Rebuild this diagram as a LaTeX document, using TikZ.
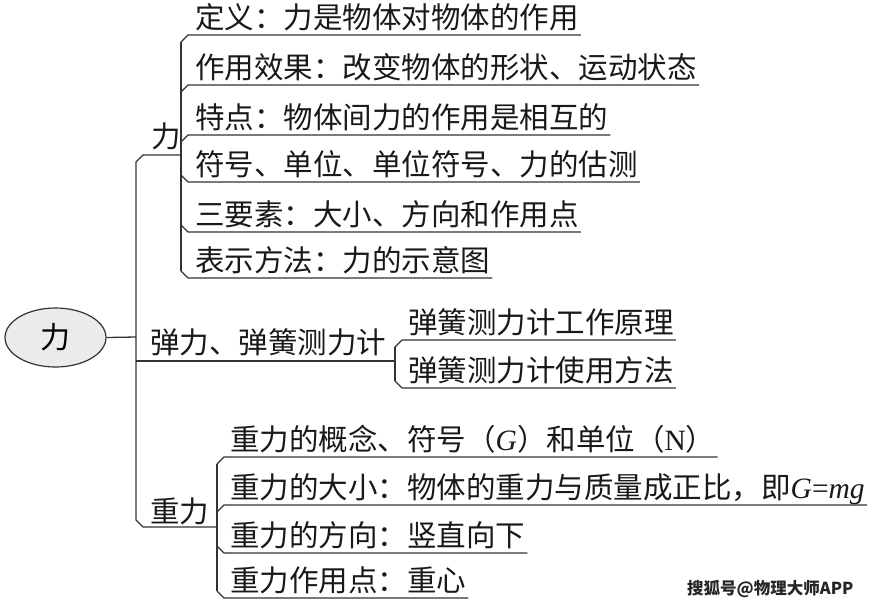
\documentclass[tikz,border=0pt]{standalone}
\usepackage{fontspec}
\newfontfamily\cjk{Noto Sans CJK SC}
\newfontfamily\lat{Liberation Serif}
\usetikzlibrary{shapes.geometric}
\begin{document}
\begin{tikzpicture}[x=1pt,y=-1pt,
  ln/.style={line width=1.3pt, draw=black!80, line join=miter},
  item/.style={anchor=base west, inner xsep=2pt, inner ysep=0pt,
    font=\cjk\fontsize{29.5}{32}\selectfont, text=black!90},
  rootnode/.style={ellipse, draw=black!80, line width=1.2pt, fill=black!8,
    minimum width=101pt, minimum height=59pt, inner sep=0pt,
    font=\cjk\fontsize{30}{32}\selectfont, text=black},
  wmark/.style={anchor=west, inner sep=0pt,
    font=\cjk\bfseries\fontsize{16.5}{19}\selectfont, text=black!85}
]
\useasboundingbox (0,0) rectangle (877,608);

% root
\node[rootnode] (root) at (55.5,337.5) {力};

% branch labels
\node[item] (b1) at (149,147) {力};
\node[item] (b2) at (148,353) {弹力、弹簧测力计};
\node[item] (b3) at (148,522) {重力};

% items of 力
\node[item] (a1) at (193,28)  {定义：力是物体对物体的作用};
\node[item] (a2) at (193,78)  {作用效果：改变物体的形状、运动状态};
\node[item] (a3) at (193,128) {特点：物体间力的作用是相互的};
\node[item] (a4) at (193,175) {符号、单位、单位符号、力的估测};
\node[item] (a5) at (193,225) {三要素：大小、方向和作用点};
\node[item] (a6) at (193,271) {表示方法：力的示意图};

% items of 弹力
\node[item] (c1) at (406,333) {弹簧测力计工作原理};
\node[item] (c2) at (406,381) {弹簧测力计使用方法};

% items of 重力
\node[item] (d1) at (228,450) {重力的概念、符号（{\lat\itshape G}）和单位（{\lat N}）};
\node[item] (d2) at (228,498) {重力的大小：物体的重力与质量成正比，即{\lat\itshape G}{\lat =}{\lat\itshape mg}};
\node[item] (d3) at (228,546) {重力的方向：竖直向下};
\node[item] (d4) at (228,591) {重力作用点：重心};

% watermark
\node[wmark] (wm) at (687,589) {搜狐号@物理大师APP};

% trunk coordinates
\coordinate (m0) at (136,337);
\coordinate (mt) at (136,162);
\coordinate (mtc) at (143,155);
\coordinate (s1) at (181,155);
\coordinate (mb) at (136,520);
\coordinate (mbc) at (143,527);
\coordinate (s3) at (217,527);
\coordinate (m2) at (136,361);
\coordinate (s2) at (395,361);

\draw[ln] (root.east) -- (m0);
\draw[ln] (s1) -- (mtc) -- (mt) -- (mb) -- (mbc) -- (s3);
\draw[ln] (m2) -- (s2);

% sub-tree 力
\coordinate (v1t) at (181,42);
\coordinate (v1b) at (181,271);
\draw[ln] (v1t) -- (v1b);
\coordinate (ka1) at (188,35);  \draw[ln] (v1t) -- (ka1) -- (ka1 -| a1.east);
\coordinate (ka2) at (188,85);  \draw[ln] (181,92) -- (ka2) -- (ka2 -| a2.east);
\coordinate (ka3) at (188,135); \draw[ln] (181,142) -- (ka3) -- (ka3 -| a3.east);
\coordinate (ka4) at (188,182); \draw[ln] (181,175) -- (ka4) -- (ka4 -| a4.east);
\coordinate (ka5) at (188,232); \draw[ln] (181,225) -- (ka5) -- (ka5 -| a5.east);
\coordinate (ka6) at (188,278); \draw[ln] (v1b) -- (ka6) -- (ka6 -| a6.east);

% sub-tree 弹力
\coordinate (v2t) at (395,347);
\coordinate (v2b) at (395,381);
\draw[ln] (v2t) -- (v2b);
\coordinate (kc1) at (402,340); \draw[ln] (v2t) -- (kc1) -- (kc1 -| c1.east);
\coordinate (kc2) at (402,388); \draw[ln] (v2b) -- (kc2) -- (kc2 -| c2.east);

% sub-tree 重力
\coordinate (v3t) at (217,464);
\coordinate (v3b) at (217,591);
\draw[ln] (v3t) -- (v3b);
\coordinate (kd1) at (224,457); \draw[ln] (v3t) -- (kd1) -- (kd1 -| d1.east);
\coordinate (kd2) at (224,505); \draw[ln] (217,512) -- (kd2) -- (kd2 -| d2.east);
\coordinate (kd3) at (224,553); \draw[ln] (217,546) -- (kd3) -- (kd3 -| d3.east);
\coordinate (kd4) at (224,598); \draw[ln] (v3b) -- (kd4) -- (kd4 -| d4.east);
\end{tikzpicture}
\end{document}
